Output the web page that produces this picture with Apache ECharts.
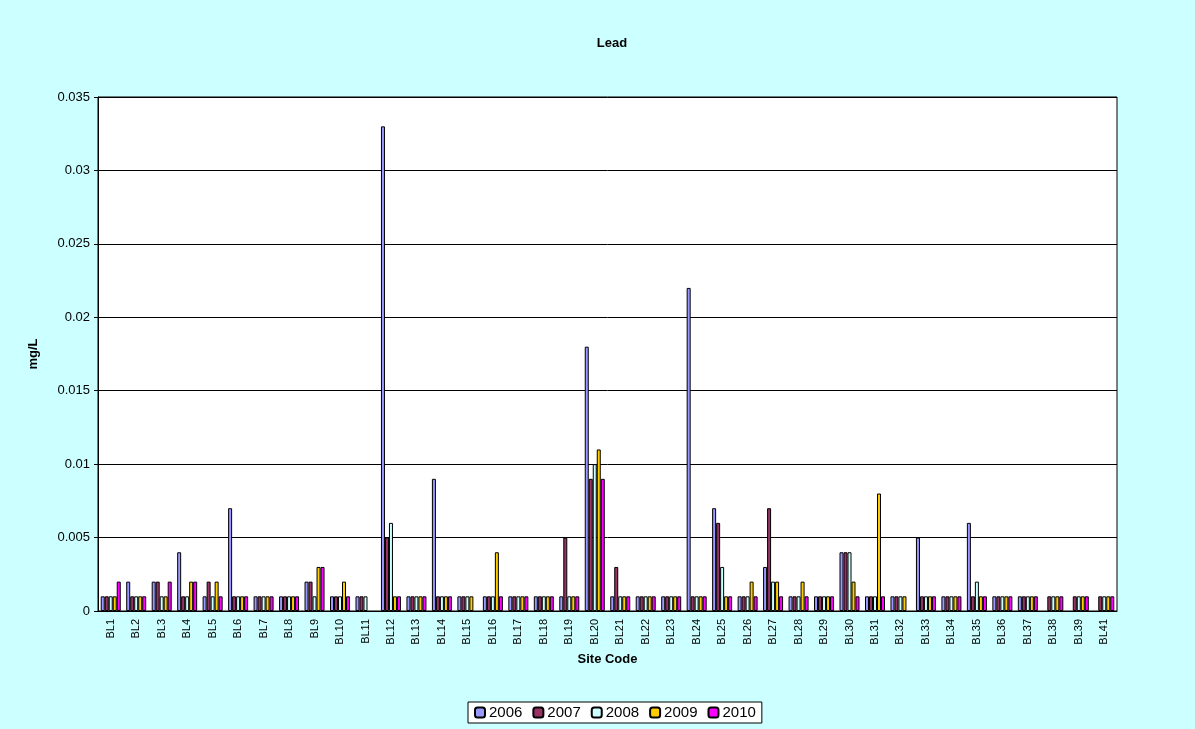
<!DOCTYPE html>
<html lang="en">
<head>
    <meta charset="UTF-8">
    <title>Lead</title>
    <script src="https://cdn.jsdelivr.net/npm/echarts@6/dist/echarts.min.js"></script>
    <style>
        * { margin: 0; padding: 0; box-sizing: border-box; }
        body { background: #ccffff; }
        #chart { width: 1195px; height: 729px; }
    </style>
</head>
<body>
    <div id="chart"></div>
    <script>
        // site codes (there is no BL40 in the source)
        const sites = ['BL1','BL2','BL3','BL4','BL5','BL6','BL7','BL8','BL9','BL10',
            'BL11','BL12','BL13','BL14','BL15','BL16','BL17','BL18','BL19','BL20',
            'BL21','BL22','BL23','BL24','BL25','BL26','BL27','BL28','BL29','BL30',
            'BL31','BL32','BL33','BL34','BL35','BL36','BL37','BL38','BL39','BL41'];

        // mg/L, null = no sample
        const y2006 = [0.001,0.002,0.002,0.004,0.001,0.007,0.001,0.001,0.002,0.001,
            0.001,0.033,0.001,0.009,0.001,0.001,0.001,0.001,0.001,0.018,
            0.001,0.001,0.001,0.022,0.007,0.001,0.003,0.001,0.001,0.004,
            0.001,0.001,0.005,0.001,0.006,0.001,0.001,null,null,null];
        const y2007 = [0.001,0.001,0.002,0.001,0.002,0.001,0.001,0.001,0.002,0.001,
            0.001,0.005,0.001,0.001,0.001,0.001,0.001,0.001,0.005,0.009,
            0.003,0.001,0.001,0.001,0.006,0.001,0.007,0.001,0.001,0.004,
            0.001,0.001,0.001,0.001,0.001,0.001,0.001,0.001,0.001,0.001];
        const y2008 = [0.001,0.001,0.001,0.001,0.001,0.001,0.001,0.001,0.001,0.001,
            0.001,0.006,0.001,0.001,0.001,0.001,0.001,0.001,0.001,0.010,
            0.001,0.001,0.001,0.001,0.003,0.001,0.002,0.001,0.001,0.004,
            0.001,0.001,0.001,0.001,0.002,0.001,0.001,0.001,0.001,0.001];
        const y2009 = [0.001,0.001,0.001,0.002,0.002,0.001,0.001,0.001,0.003,0.002,
            null,0.001,0.001,0.001,0.001,0.004,0.001,0.001,0.001,0.011,
            0.001,0.001,0.001,0.001,0.001,0.002,0.002,0.002,0.001,0.002,
            0.008,0.001,0.001,0.001,0.001,0.001,0.001,0.001,0.001,0.001];
        const y2010 = [0.002,0.001,0.002,0.002,0.001,0.001,0.001,0.001,0.003,0.001,
            null,0.001,0.001,0.001,null,0.001,0.001,0.001,0.001,0.009,
            0.001,0.001,0.001,0.001,0.001,0.001,0.001,0.001,0.001,0.001,
            0.001,null,0.001,0.001,0.001,0.001,0.001,0.001,0.001,0.001];

        const years = ['2006', '2007', '2008', '2009', '2010'];
        const colors = ['#9999ff', '#993366', '#ccffff', '#ffcc00', '#ff00ff'];
        const values = [y2006, y2007, y2008, y2009, y2010];

        const chart = echarts.init(document.getElementById('chart'));
        chart.setOption({
            animation: false,
            backgroundColor: '#ccffff',
            textStyle: { fontFamily: 'Liberation Sans, Arial, sans-serif', color: '#000' },
            title: {
                text: 'Lead',
                left: 607, top: 32, textAlign: 'center',
                textStyle: { fontSize: 13, fontWeight: 'bold', color: '#000' }
            },
            legend: {
                data: years,
                left: 468, top: 702,
                itemWidth: 10, itemHeight: 10, itemGap: 10,
                padding: [3, 6],
                borderColor: '#000', borderWidth: 1,
                backgroundColor: '#fff',
                textStyle: { fontSize: 15, color: '#000', padding: [0, 0, 0, -1] }
            },
            grid: {
                left: 98, right: 78, top: 97, bottom: 118,
                show: true, backgroundColor: '#fff', borderColor: '#000', borderWidth: 1
            },
            xAxis: {
                type: 'category',
                data: sites,
                name: 'Site Code', nameLocation: 'middle', nameGap: 40,
                nameTextStyle: { fontSize: 13, fontWeight: 'bold', color: '#000' },
                axisLine: { lineStyle: { color: '#000' } },
                axisTick: { alignWithLabel: false, length: 4, lineStyle: { color: '#000' } },
                axisLabel: { rotate: 90, interval: 0, fontSize: 11, color: '#000', margin: 8 }
            },
            yAxis: {
                type: 'value',
                min: 0, max: 0.035, interval: 0.005,
                name: 'mg/L', nameLocation: 'middle', nameGap: 58,
                nameTextStyle: { fontSize: 13, fontWeight: 'bold', color: '#000' },
                axisLine: { show: true, lineStyle: { color: '#000' } },
                axisTick: { show: true, length: 4, lineStyle: { color: '#000' } },
                axisLabel: { fontSize: 13, color: '#000', margin: 8 },
                splitLine: { lineStyle: { color: '#000', width: 1 } }
            },
            series: years.map((y, i) => ({
                name: y,
                type: 'bar',
                data: values[i],
                barWidth: 4,
                barGap: '0%',
                itemStyle: { color: colors[i], borderColor: '#000', borderWidth: 1 }
            }))
        });
    </script>
</body>
</html>
